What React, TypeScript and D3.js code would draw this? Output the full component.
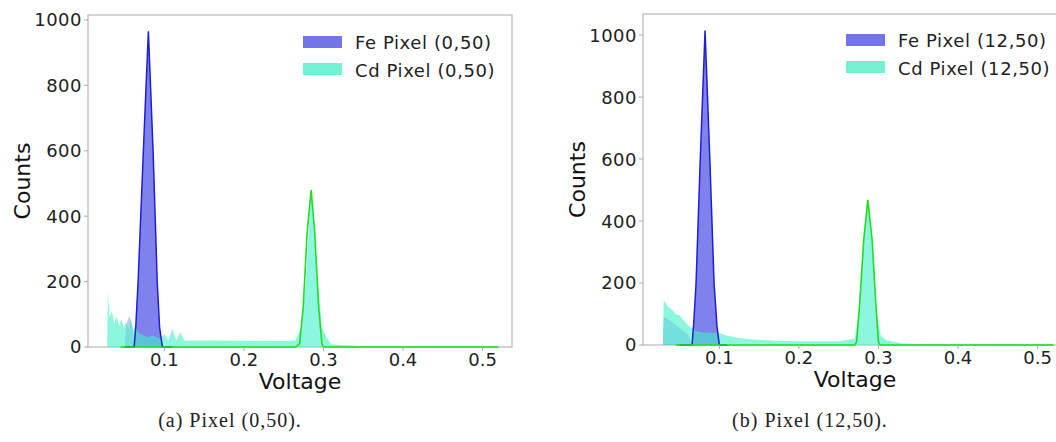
import React from 'react';
import { scaleLinear, area, line, curveLinear } from 'd3';

// ---- panel (a): Pixel (0,50) ----
const feVoltA = [0.05, 0.062, 0.064, 0.067, 0.0736, 0.0799, 0.0858, 0.091, 0.094, 0.0975, 0.11];
const feCountA = [0, 0, 60, 200, 600, 965, 600, 200, 60, 0, 0];
const feNoiseVoltA = [0.05, 0.052, 0.056, 0.06, 0.063];
const feNoiseCountA = [0, 70, 95, 60, 0];
const cdHistVoltA = [
  0.028, 0.029, 0.031, 0.034, 0.037, 0.04, 0.043, 0.046, 0.049, 0.052, 0.055, 0.058, 0.061,
  0.064, 0.067, 0.07, 0.075, 0.08, 0.085, 0.09, 0.095, 0.1, 0.105, 0.11, 0.115, 0.12, 0.125,
  0.15, 0.2, 0.25, 0.265, 0.272, 0.278, 0.2845, 0.291, 0.298, 0.305, 0.31, 0.35, 0.52, 0.521,
];
const cdHistCountA = [
  0, 170, 90, 110, 70, 95, 65, 85, 60, 75, 55, 90, 50,
  70, 45, 40, 35, 30, 35, 30, 25, 40, 20, 55, 20, 45, 20,
  20, 19, 18, 20, 60, 200, 480, 250, 60, 25, 8, 3, 2, 0,
];
const cdLineVoltA = [0.045, 0.265, 0.27, 0.2745, 0.2795, 0.2845, 0.289, 0.294, 0.298, 0.3, 0.52];
const cdLineCountA = [0, 0, 10, 120, 350, 480, 350, 120, 10, 0, 0];

// ---- panel (b): Pixel (12,50) ----
const feVoltB = [0.05, 0.0657, 0.068, 0.0707, 0.076, 0.082, 0.088, 0.0933, 0.097, 0.1, 0.11];
const feCountB = [0, 0, 80, 200, 600, 1015, 600, 200, 60, 0, 0];
const feNoiseVoltB = [0.029, 0.03, 0.04, 0.05, 0.06, 0.066];
const feNoiseCountB = [0, 90, 75, 55, 35, 0];
const cdHistVoltB = [
  0.029, 0.03, 0.035, 0.04, 0.045, 0.05, 0.055, 0.06, 0.065, 0.07, 0.08, 0.09, 0.1, 0.11,
  0.12, 0.14, 0.17, 0.2, 0.25, 0.27, 0.275, 0.2815, 0.2866, 0.292, 0.298, 0.303, 0.31, 0.33,
  0.36, 0.52, 0.521,
];
const cdHistCountB = [
  0, 145, 125, 115, 100, 95, 80, 65, 55, 45, 40, 40, 38, 30,
  25, 18, 14, 12, 12, 20, 100, 330, 468, 330, 100, 30, 15, 5,
  2, 1, 0,
];
const cdLineVoltB = [0.045, 0.27, 0.2725, 0.276, 0.2815, 0.2866, 0.292, 0.297, 0.3, 0.302, 0.52];
const cdLineCountB = [0, 0, 10, 120, 340, 468, 340, 120, 10, 0, 0];

const yTicks = [0, 200, 400, 600, 800, 1000];
const xTicks = [0.1, 0.2, 0.3, 0.4, 0.5];

const FONT = 'DejaVu Sans, sans-serif';
const FE_FILL = '#1a1ae0';
const FE_LINE = '#1f1fd2';
const CD_FILL = '#40f0c8';
const CD_LINE = '#22dd22';
const SPINE = '#aaaaaa';

const zip = (xs: number[], ys: number[]) => xs.map((x, i) => [x, ys[i]] as [number, number]);

function Panel(props: any) {
  const { left, right, top, bottom, yMax, feV, feC, feNV, feNC, cdV, cdC, clV, clC, labels, legendX, legendY } = props;
  const x = scaleLinear().domain([0.004, 0.537]).range([left, right]);
  const y = scaleLinear().domain([0, yMax]).range([bottom, top]);

  const fill = area<[number, number]>()
    .x(d => x(d[0]))
    .y0(y(0))
    .y1(d => y(d[1]))
    .curve(curveLinear);
  const path = line<[number, number]>()
    .x(d => x(d[0]))
    .y(d => y(d[1]));

  const fe = zip(feV, feC);
  const cd = zip(cdV, cdC);
  const cl = zip(clV, clC);
  const noise = zip(feNV, feNC);

  return (
    <g>
      <rect x={left} y={top} width={right - left} height={bottom - top} fill="none" stroke={SPINE} strokeWidth={1} />
      <path d={fill(noise) || ''} fill={FE_FILL} fillOpacity={0.25} />
      <path d={fill(fe) || ''} fill={FE_FILL} fillOpacity={0.55} />
      <path d={fill(cd) || ''} fill={CD_FILL} fillOpacity={0.6} />
      <path d={path(fe) || ''} fill="none" stroke={FE_LINE} strokeWidth={1.5} />
      <path d={path(cl) || ''} fill="none" stroke={CD_LINE} strokeWidth={1.6} />

      {yTicks.map(t => (
        <g key={'y' + t}>
          <line x1={left - 4} x2={left} y1={y(t)} y2={y(t)} stroke={SPINE} />
          <text x={left - 6} y={y(t)} dy="0.36em" textAnchor="end" fontFamily={FONT} fontSize={18} letterSpacing={0.5} fill="#222">{t}</text>
        </g>
      ))}
      {xTicks.map(t => (
        <g key={'x' + t}>
          <line x1={x(t)} x2={x(t)} y1={bottom} y2={bottom + 4} stroke={SPINE} />
          <text x={x(t)} y={bottom + 19} textAnchor="middle" fontFamily={FONT} fontSize={18} fill="#222">{t.toFixed(1)}</text>
        </g>
      ))}

      <text x={(left + right) / 2} y={bottom + 42} textAnchor="middle" fontFamily={FONT} fontSize={22} fill="#111">Voltage</text>
      <text transform={`translate(${left - 58},${(top + bottom) / 2}) rotate(-90)`} textAnchor="middle" fontFamily={FONT} fontSize={22} fill="#111">Counts</text>

      <rect x={legendX} y={legendY} width={39} height={12} fill="#7373ea" />
      <rect x={legendX} y={legendY + 27} width={39} height={12} fill="#72f2d2" />
      <text x={legendX + 52} y={legendY + 13} fontFamily={FONT} fontSize={18} letterSpacing={0.6} fill="#222">{labels[0]}</text>
      <text x={legendX + 52} y={legendY + 41} fontFamily={FONT} fontSize={18} letterSpacing={0.6} fill="#222">{labels[1]}</text>
    </g>
  );
}

export default function App() {
  return (
    <svg width={1056} height={442} style={{ position: 'absolute', left: 0, top: 0, background: '#fff' }}>
      <Panel
        left={88} right={512} top={15} bottom={347} yMax={1015}
        feV={feVoltA} feC={feCountA} feNV={feNoiseVoltA} feNC={feNoiseCountA}
        cdV={cdHistVoltA} cdC={cdHistCountA} clV={cdLineVoltA} clC={cdLineCountA}
        labels={['Fe Pixel (0,50)', 'Cd Pixel (0,50)']} legendX={303} legendY={36}
      />
      <Panel
        left={643} right={1067} top={14} bottom={345} yMax={1068}
        feV={feVoltB} feC={feCountB} feNV={feNoiseVoltB} feNC={feNoiseCountB}
        cdV={cdHistVoltB} cdC={cdHistCountB} clV={cdLineVoltB} clC={cdLineCountB}
        labels={['Fe Pixel (12,50)', 'Cd Pixel (12,50)']} legendX={846} legendY={34}
      />
      <text x={230} y={427} textAnchor="middle" fontFamily="Liberation Serif, serif" fontSize={20} letterSpacing={1} fill="#222">(a) Pixel (0,50).</text>
      <text x={810} y={427} textAnchor="middle" fontFamily="Liberation Serif, serif" fontSize={20} letterSpacing={1} fill="#222">(b) Pixel (12,50).</text>
    </svg>
  );
}
